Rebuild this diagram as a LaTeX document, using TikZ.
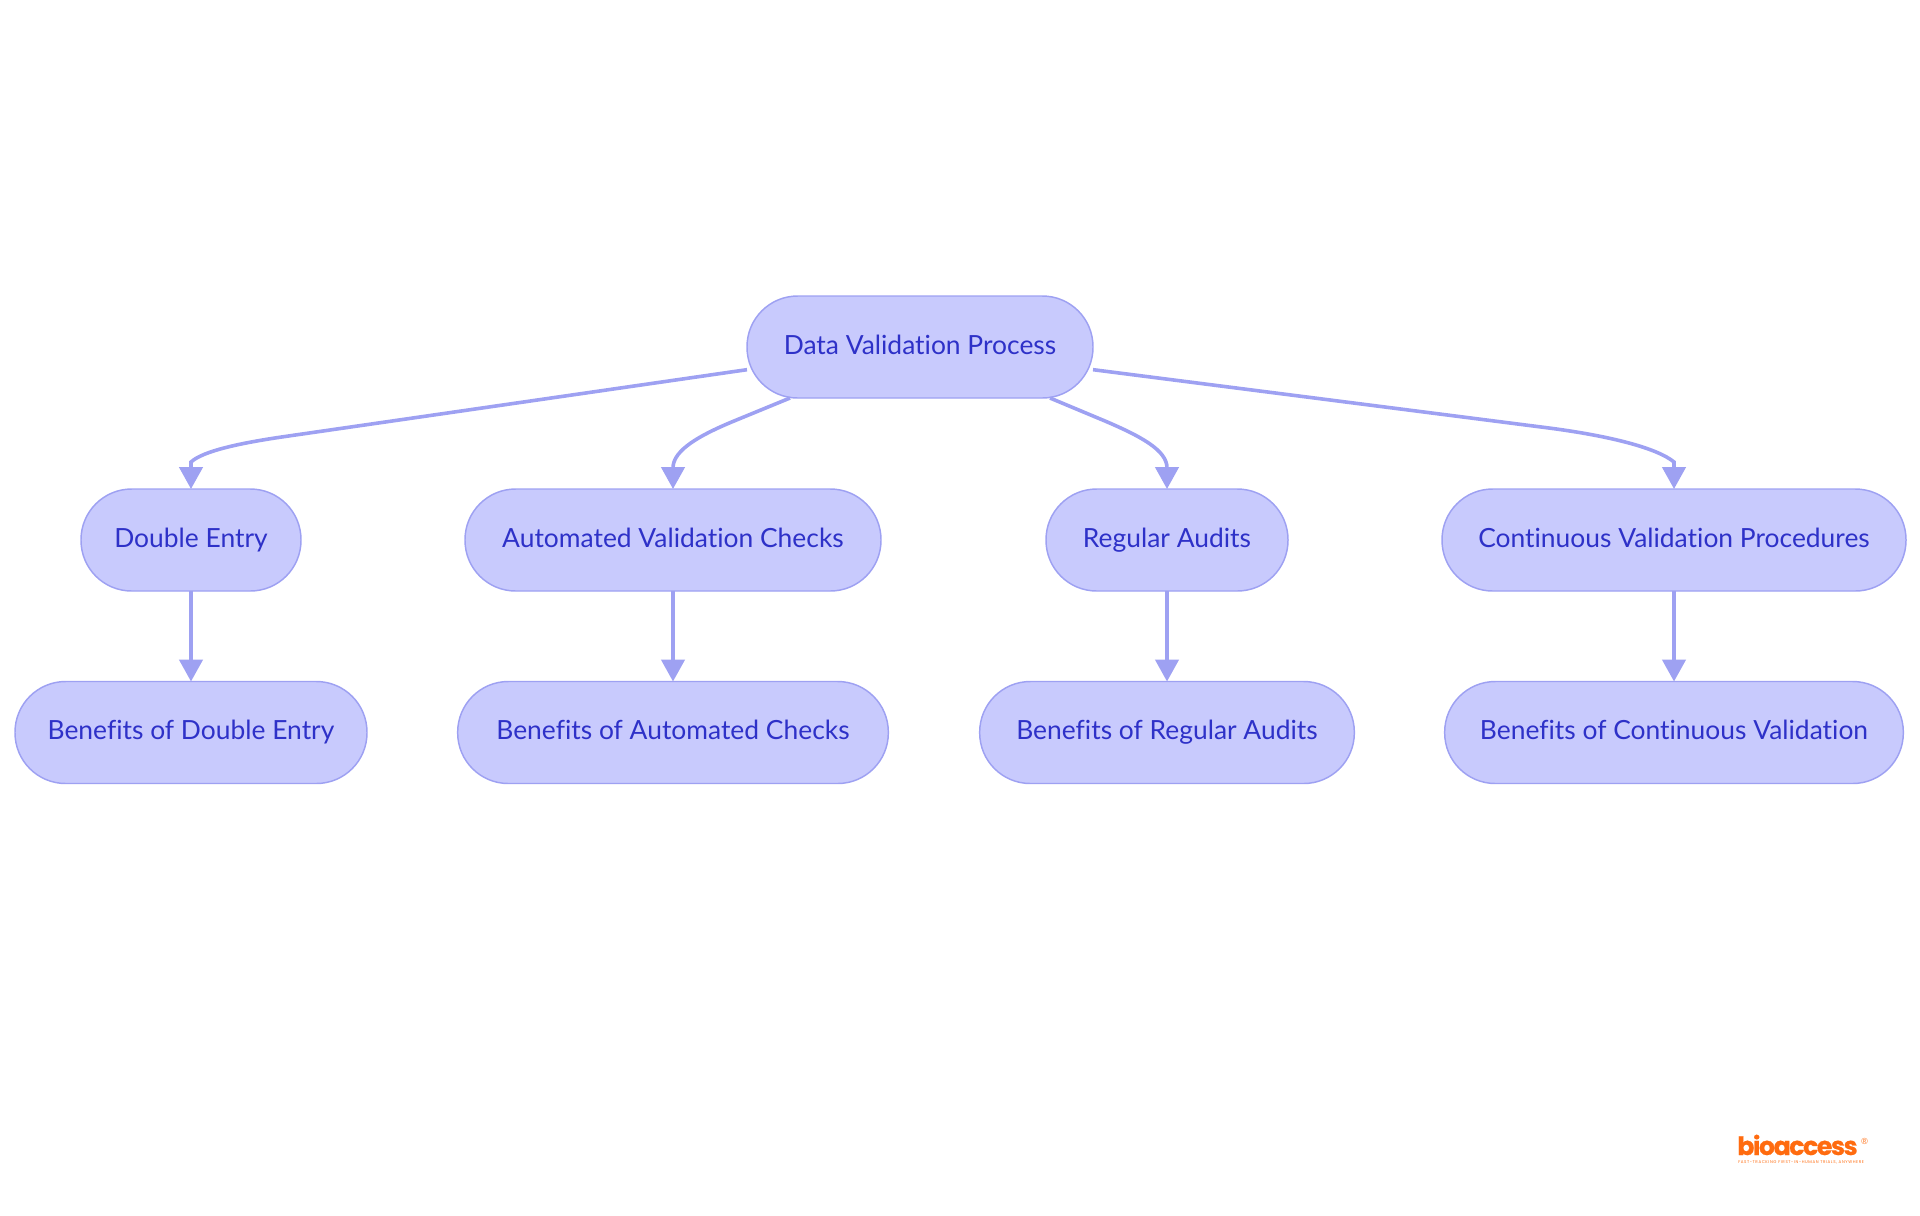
\documentclass[tikz,border=0pt]{standalone}
\usepackage{fontspec}
\setmainfont[Ligatures=NoCommon]{Lato}
\newfontfamily\logofont[LetterSpace=-6,BoldFeatures={FakeBold=0.5}]{Poppins}
\newfontfamily\tagfont[LetterSpace=15]{Poppins}
\newfontfamily\regfont{Liberation Sans}
\usetikzlibrary{arrows.meta}
\definecolor{pillfill}{HTML}{C8CAFD}
\definecolor{pillline}{HTML}{9EA1F2}
\definecolor{pilltext}{HTML}{2E31C8}
\definecolor{logoorange}{HTML}{FF6B0F}
\tikzset{
  pill/.style={draw=pillline,fill=pillfill,line width=1.1pt,rounded corners=38pt,minimum height=76.5pt,inner sep=0pt,outer sep=0pt,
    text=pilltext,text height=15pt,text depth=4pt,font=\fontsize{19.8}{22}\selectfont},
  edge/.style={draw=pillline,line width=2.7pt,-{Triangle[length=16.5pt,width=17.5pt]}}
}
\begin{document}
\begin{tikzpicture}[x=0.75pt,y=-0.75pt]
\useasboundingbox (0,0) rectangle (1920,1215);
\node[pill,minimum width=259.5pt] (root) at (920,347) {Data Validation Process};
% second row
\node[pill,minimum width=165pt] (dbl) at (191,540) {Double Entry};
\node[pill,minimum width=312pt] (auto) at (673,540) {Automated Validation Checks};
\node[pill,minimum width=181.5pt] (audit) at (1167,540) {Regular Audits};
\node[pill,minimum width=348pt] (cont) at (1674,540) {Continuous Validation Procedures};
% third row
\node[pill,minimum width=264pt] (bdbl) at (191,732.5) {Benefits of Double Entry};
\node[pill,minimum width=323pt] (bauto) at (673,732.5) {Benefits of Automated Checks};
\node[pill,minimum width=281pt] (baudit) at (1167,732.5) {Benefits of Regular Audits};
\node[pill,minimum width=344pt] (bcont) at (1674,732.5) {Benefits of Continuous Validation};
% edges
\draw[edge] ([yshift=-17pt]root.west) -- (285,436.5) .. controls (240,443) and (203,451) .. (191,462) -- (dbl.north);
\draw[edge] ([xshift=-97.5pt]root.south) -- (735,420.6) .. controls (700,435) and (673,450) .. (auto.north);
\draw[edge] ([xshift=97.5pt]root.south) -- (1105,421) .. controls (1140,436) and (1167,450) .. (audit.north);
\draw[edge] ([yshift=-17pt]root.east) -- (1549,428) .. controls (1610,436) and (1657,448) .. (1674,462) -- (cont.north);
\draw[edge] (dbl) -- (bdbl);
\draw[edge] (auto) -- (bauto);
\draw[edge] (audit) -- (baudit);
\draw[edge] (cont) -- (bcont);
% logo
\node[anchor=base west,inner sep=0pt,text=logoorange,font=\fontsize{19}{19}\logofont\bfseries] (logo) at (1737,1155) {bioaccess};
\node[anchor=base west,inner sep=0pt,text=logoorange,font=\fontsize{6.6}{7}\regfont] (reg) at (1861,1144) {®};
\node[anchor=base west,inner sep=0pt,text=logoorange,font=\fontsize{3}{3}\tagfont] (tagline) at (1738,1163.5) {FAST-TRACKING FIRST-IN-HUMAN TRIALS, ANYWHERE};
\end{tikzpicture}
\end{document}
